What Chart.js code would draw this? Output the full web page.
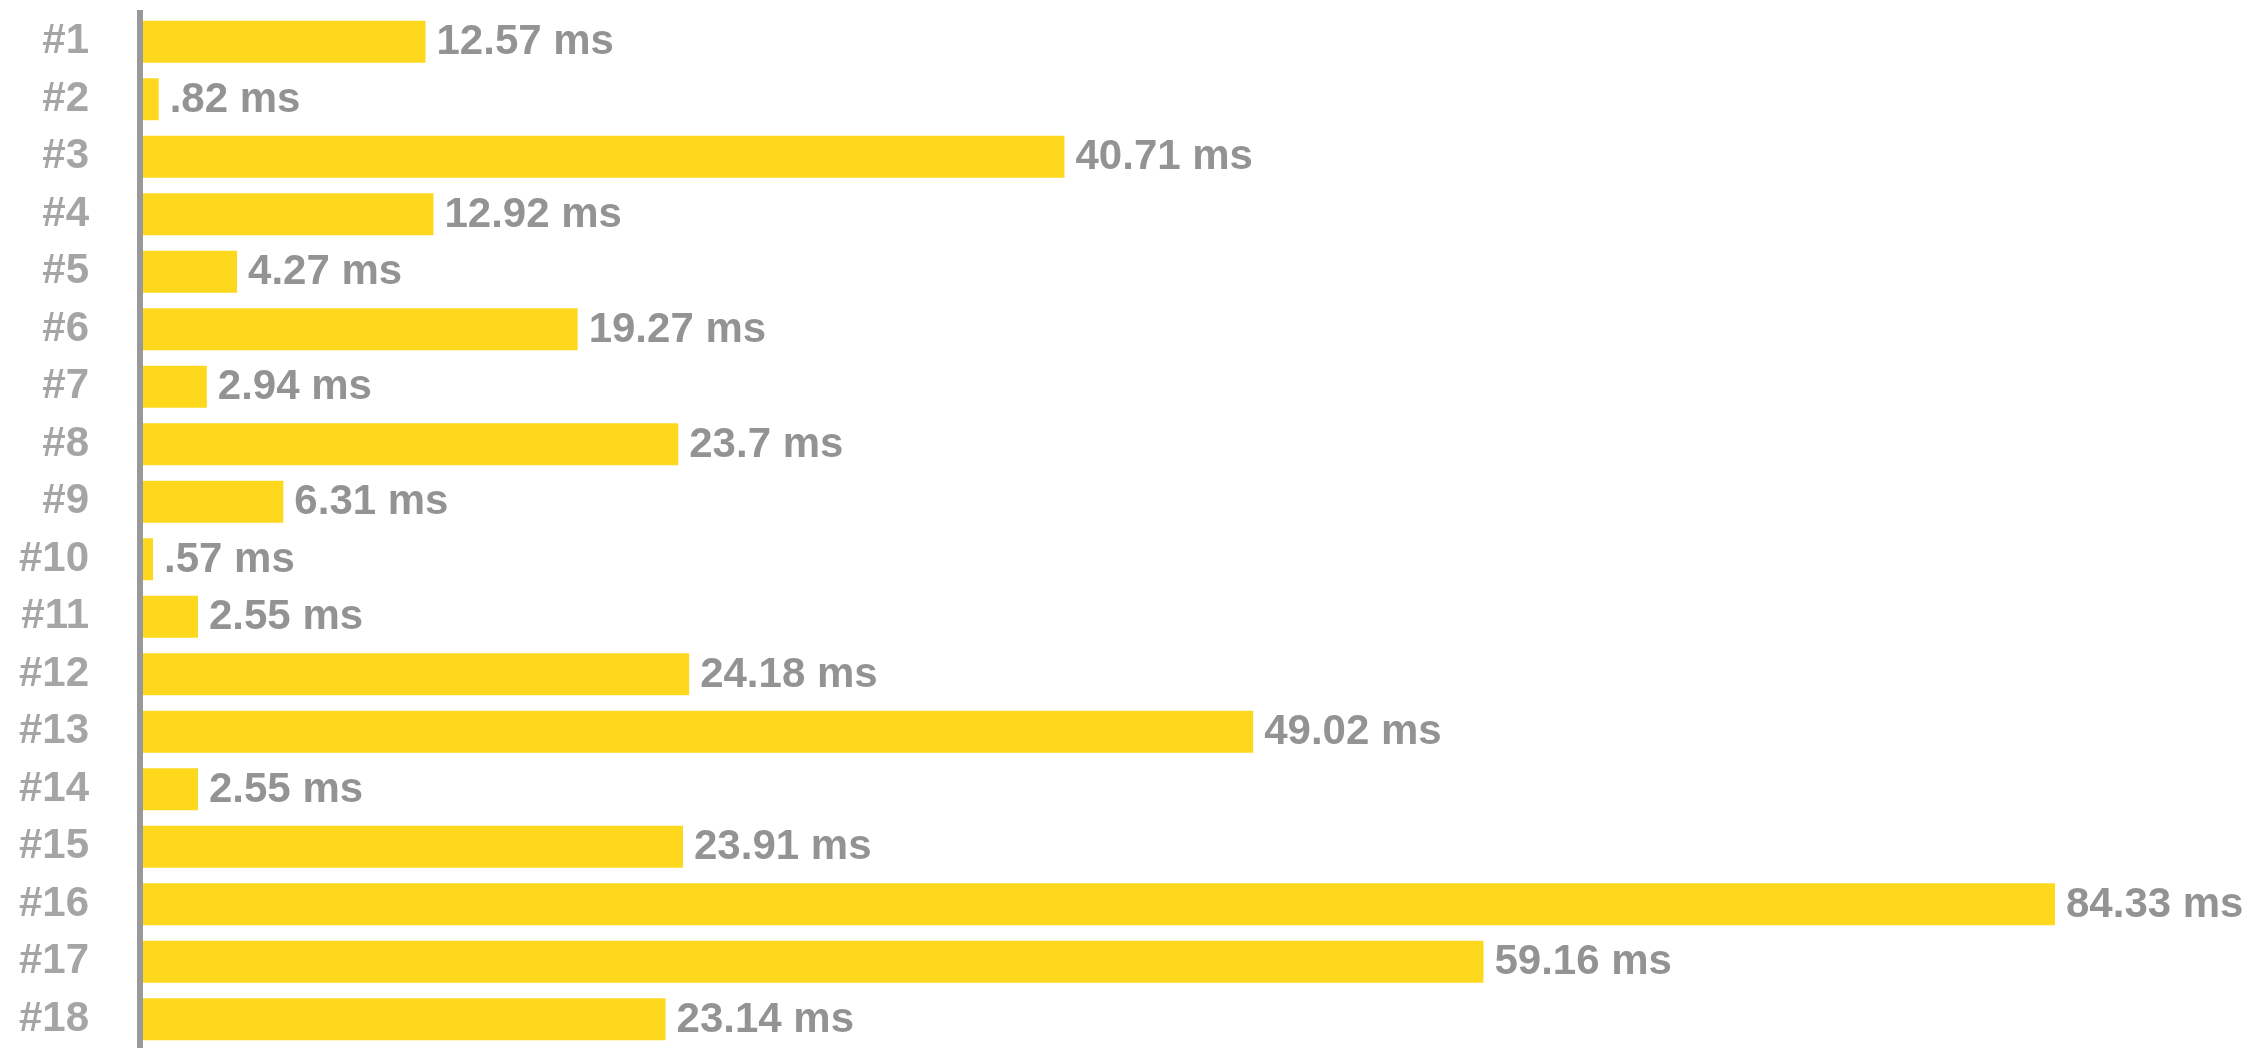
<!DOCTYPE html>
<html lang="en">
<head>
  <meta charset="UTF-8">
  <title>Timings</title>
  <script src="https://cdn.jsdelivr.net/npm/chart.js"></script>
  <style>
    body {
      margin: 0;
      padding: 0;
      background: #fff;
    }

    .chart-box {
      width: 2260px;
      height: 1048px;
      position: relative;
    }
  </style>
</head>
<body>
  <div class="chart-box">
    <canvas id="barChart"></canvas>
  </div>

  <script>
    const labels = ['#1', '#2', '#3', '#4', '#5', '#6', '#7', '#8', '#9', '#10',
                    '#11', '#12', '#13', '#14', '#15', '#16', '#17', '#18'];
    const timings = [12.57, 0.82, 40.71, 12.92, 4.27, 19.27, 2.94, 23.7, 6.31, 0.57,
                     2.55, 24.18, 49.02, 2.55, 23.91, 84.33, 59.16, 23.14];

    const font = { family: "'Liberation Sans', Arial, sans-serif", size: 42, weight: 'bold' };

    // writes "12.57 ms" just past the end of each bar
    const valueLabels = {
      id: 'valueLabels',
      afterDatasetsDraw(chart) {
        const ctx = chart.ctx;
        const meta = chart.getDatasetMeta(0);
        ctx.save();
        ctx.font = `${font.weight} ${font.size}px ${font.family}`;
        ctx.fillStyle = '#939393';
        ctx.textAlign = 'left';
        ctx.textBaseline = 'middle';
        meta.data.forEach((bar, i) => {
          const txt = String(timings[i]).replace(/^0\./, '.') + ' ms';
          ctx.fillText(txt, bar.x + 11, bar.y + 1);
        });
        ctx.restore();
      }
    };

    new Chart(document.getElementById('barChart'), {
      type: 'bar',
      data: {
        labels: labels,
        datasets: [{
          data: timings,
          backgroundColor: '#fdd81c',
          borderWidth: 0,
          categoryPercentage: 1,
          barPercentage: 0.73,
        }],
      },
      options: {
        indexAxis: 'y',
        responsive: true,
        maintainAspectRatio: false,
        animation: false,
        layout: {
          padding: { left: 19, top: 13, right: 205, bottom: 0 }
        },
        plugins: {
          legend: { display: false },
          tooltip: { enabled: false },
        },
        scales: {
          x: {
            display: false,
            min: 0,
            max: Math.max(...timings),
          },
          y: {
            grid: { display: false, drawTicks: false },
            border: { display: true, color: '#999999', width: 6, z: 1 },
            ticks: {
              color: '#a5a5a5',
              font: font,
              padding: 51,
            },
            // chart.js counts the tick padding twice in width and adds it above/below too
            afterFit(scale) {
              scale.paddingTop = 0;
              scale.paddingBottom = 0;
              scale.width -= scale.options.ticks.padding;
            },
          },
        },
      },
      plugins: [valueLabels],
    });
  </script>
</body>
</html>
